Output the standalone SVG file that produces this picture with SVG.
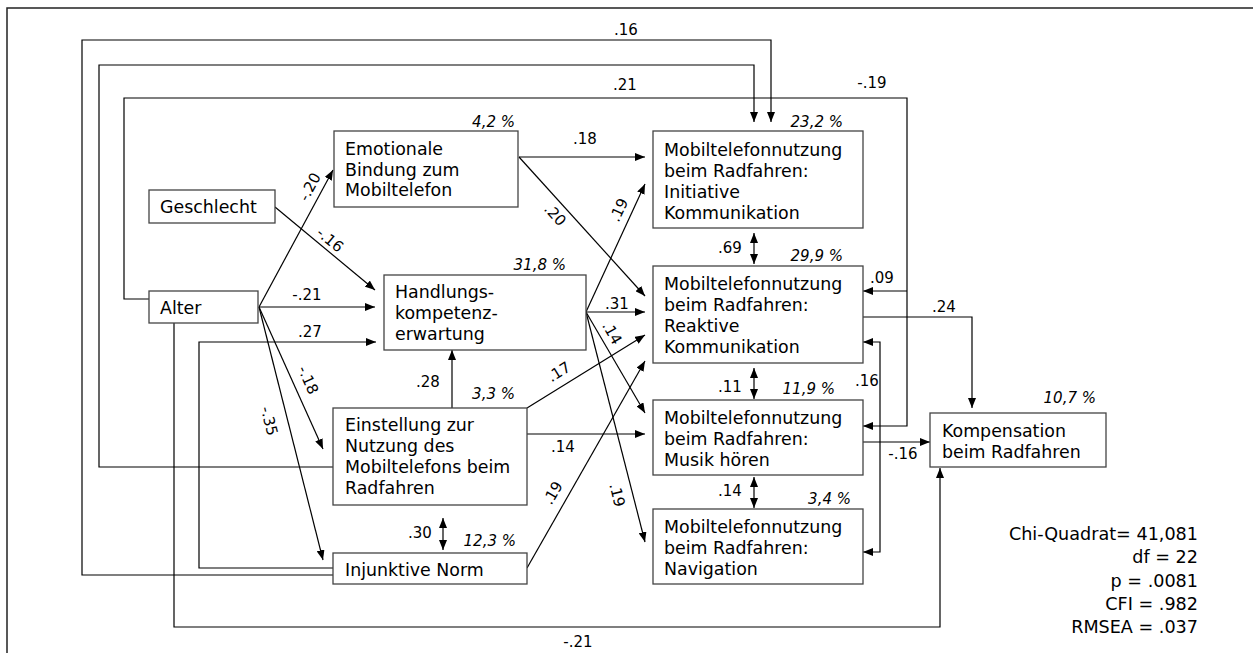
<svg xmlns="http://www.w3.org/2000/svg" width="1253" height="653" viewBox="0 0 1253 653">
<style>
.box{fill:#fff;stroke:#444;stroke-width:1.3}
.t{font-family:"DejaVu Sans",Verdana,sans-serif;font-size:17.4px;fill:#000}
.pc{font-family:"DejaVu Sans",Verdana,sans-serif;font-size:15px;font-style:italic;fill:#000}
.lb{font-family:"DejaVu Sans",Verdana,sans-serif;font-size:15px;fill:#000;text-anchor:middle}
.st{font-family:"DejaVu Sans",Verdana,sans-serif;font-size:17.6px;fill:#000;text-anchor:end}
.c{fill:none;stroke:#000;stroke-width:1.2}
.a{marker-end:url(#ah)}
.d{marker-start:url(#ah);marker-end:url(#ah)}
</style>
<defs>
<marker id="ah" viewBox="0 0 10 8" refX="10" refY="4" markerWidth="10" markerHeight="8" markerUnits="userSpaceOnUse" orient="auto-start-reverse">
<path d="M0,0 L10,4 L0,8 z" fill="#000"/>
</marker>
</defs>
<rect width="1253" height="653" fill="#fff"/>
<path d="M7,653 V8 H1253" fill="none" stroke="#222" stroke-width="1.5"/>

<g id="connectors">
<path class="c a" d="M519,157 H645"/>
<path class="c a" d="M519,157 L645,296"/>
<path class="c a" d="M586,312 L645,184"/>
<path class="c a" d="M586,312 H645"/>
<path class="c a" d="M586,312 L645,413"/>
<path class="c a" d="M586,312 L645,542"/>
<path class="c a" d="M452,408 V350"/>
<path class="c a" d="M527,408 L645,335"/>
<path class="c a" d="M527,434 H645"/>
<path class="c a" d="M527,568 L645,361"/>
<path class="c a" d="M259,307 L333,170"/>
<path class="c a" d="M275,207 L375,290"/>
<path class="c a" d="M259,307 H375"/>
<path class="c a" d="M259,307 L323,449"/>
<path class="c a" d="M259,307 L323,560"/>
<path class="c d" d="M443,518 V550"/>
<path class="c d" d="M754,233 V264"/>
<path class="c d" d="M754,368 V399"/>
<path class="c d" d="M754,477 V508"/>
<path class="c a" d="M863,317 H972 V408"/>
<path class="c a" d="M863,442 H930"/>
<path class="c d" d="M863,342 H880 V552 H863"/>
<path class="c a" d="M149,299 H124 V98 H907 V426 H863"/>
<path class="c a" d="M907,291 H863"/>
<path class="c a" d="M333,467 H99 V65 H754 V122"/>
<path class="c a" d="M333,575 H82 V40 H771 V122"/>
<path class="c a" d="M333,568 H199 V342 H376"/>
<path class="c a" d="M174,323 V627 H940 V468"/>
</g>

<g id="labels">
<text class="lb" x="626" y="35">.16</text>
<text class="lb" x="625" y="90">.21</text>
<text class="lb" x="872" y="88">-.19</text>
<text class="lb" x="882" y="283">.09</text>
<text class="lb" x="944" y="312">.24</text>
<text class="lb" x="867" y="386">.16</text>
<text class="lb" x="903" y="459">-.16</text>
<text class="lb" x="585" y="144">.18</text>
<text class="lb" transform="translate(555,215) rotate(48)" dy="5">.20</text>
<text class="lb" transform="translate(619,210) rotate(-65)" dy="5">.19</text>
<text class="lb" x="617" y="309">.31</text>
<text class="lb" transform="translate(612,333) rotate(60)" dy="5">.14</text>
<text class="lb" transform="translate(617,495) rotate(76)" dy="5">.19</text>
<text class="lb" x="428" y="387">.28</text>
<text class="lb" transform="translate(559,372) rotate(-32)" dy="5">.17</text>
<text class="lb" x="563" y="452">.14</text>
<text class="lb" transform="translate(553,493) rotate(-60)" dy="5">.19</text>
<text class="lb" transform="translate(310,187) rotate(-62)" dy="5">-.20</text>
<text class="lb" transform="translate(330,240) rotate(40)" dy="5">-.16</text>
<text class="lb" x="307" y="300">-.21</text>
<text class="lb" x="310" y="337">.27</text>
<text class="lb" transform="translate(308,380) rotate(66)" dy="5">-.18</text>
<text class="lb" transform="translate(269,421) rotate(76)" dy="5">-.35</text>
<text class="lb" x="420" y="538">.30</text>
<text class="lb" x="730" y="253">.69</text>
<text class="lb" x="730" y="392">.11</text>
<text class="lb" x="730" y="496">.14</text>
<text class="lb" x="578" y="647">-.21</text>
</g>

<g id="geschlecht">
<rect class="box" x="149" y="190" width="126" height="33"/>
<text class="t" x="160" y="213">Geschlecht</text>
</g>
<g id="alter">
<rect class="box" x="149" y="291" width="109" height="32"/>
<text class="t" x="160" y="314">Alter</text>
</g>
<g id="emotionale">
<rect class="box" x="334" y="131" width="184" height="76"/>
<text class="t" x="345" y="155">Emotionale</text>
<text class="t" x="345" y="176">Bindung zum</text>
<text class="t" x="345" y="196">Mobiltelefon</text>
<text class="pc" x="515" y="127" text-anchor="end">4,2 %</text>
</g>
<g id="handlung">
<rect class="box" x="384" y="275" width="202" height="75"/>
<text class="t" x="395" y="298">Handlungs-</text>
<text class="t" x="395" y="319">kompetenz-</text>
<text class="t" x="395" y="340">erwartung</text>
<text class="pc" x="566" y="270" text-anchor="end">31,8 %</text>
</g>
<g id="einstellung">
<rect class="box" x="333" y="408" width="194" height="97"/>
<text class="t" x="345" y="431">Einstellung zur</text>
<text class="t" x="345" y="452">Nutzung des</text>
<text class="t" x="345" y="473">Mobiltelefons beim</text>
<text class="t" x="345" y="494">Radfahren</text>
<text class="pc" x="515" y="399" text-anchor="end">3,3 %</text>
</g>
<g id="injunktiv">
<rect class="box" x="333" y="553" width="194" height="31"/>
<text class="t" x="345" y="576">Injunktive Norm</text>
<text class="pc" x="516" y="546" text-anchor="end">12,3 %</text>
</g>
<g id="initiativ">
<rect class="box" x="653" y="131" width="210" height="97"/>
<text class="t" x="664" y="156">Mobiltelefonnutzung</text>
<text class="t" x="664" y="177">beim Radfahren:</text>
<text class="t" x="664" y="198">Initiative</text>
<text class="t" x="664" y="219">Kommunikation</text>
<text class="pc" x="843" y="127" text-anchor="end">23,2 %</text>
</g>
<g id="reaktiv">
<rect class="box" x="653" y="266" width="210" height="97"/>
<text class="t" x="664" y="290">Mobiltelefonnutzung</text>
<text class="t" x="664" y="311">beim Radfahren:</text>
<text class="t" x="664" y="332">Reaktive</text>
<text class="t" x="664" y="353">Kommunikation</text>
<text class="pc" x="843" y="261" text-anchor="end">29,9 %</text>
</g>
<g id="musik">
<rect class="box" x="653" y="400" width="210" height="75"/>
<text class="t" x="664" y="424">Mobiltelefonnutzung</text>
<text class="t" x="664" y="445">beim Radfahren:</text>
<text class="t" x="664" y="466">Musik hören</text>
<text class="pc" x="835" y="394" text-anchor="end">11,9 %</text>
</g>
<g id="navigation">
<rect class="box" x="653" y="509" width="210" height="75"/>
<text class="t" x="664" y="533">Mobiltelefonnutzung</text>
<text class="t" x="664" y="554">beim Radfahren:</text>
<text class="t" x="664" y="575">Navigation</text>
<text class="pc" x="851" y="504" text-anchor="end">3,4 %</text>
</g>
<g id="kompensation">
<rect class="box" x="930" y="413" width="176" height="54"/>
<text class="t" x="942" y="437">Kompensation</text>
<text class="t" x="942" y="458">beim Radfahren</text>
<text class="pc" x="1096" y="403" text-anchor="end">10,7 %</text>
</g>
<g id="stats">
<text class="st" x="1198" y="540">Chi-Quadrat= 41,081</text>
<text class="st" x="1198" y="563">df = 22</text>
<text class="st" x="1198" y="587">p = .0081</text>
<text class="st" x="1198" y="610">CFI = .982</text>
<text class="st" x="1198" y="633">RMSEA = .037</text>
</g>
</svg>
